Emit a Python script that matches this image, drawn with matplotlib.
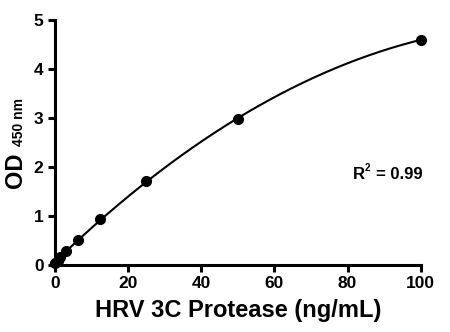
import numpy as np
import matplotlib
matplotlib.use("Agg")
import matplotlib.pyplot as plt

plt.rcParams['font.family'] = ['Liberation Sans', 'DejaVu Sans']
plt.rcParams['font.weight'] = 'bold'

conc = [0, 0.78, 1.56, 3.125, 6.25, 12.5, 25, 50, 100]
od = [0.04, 0.09, 0.16, 0.29, 0.52, 0.94, 1.71, 2.97, 4.6]
xticks = [0, 20, 40, 60, 80, 100]
yticks = [0, 1, 2, 3, 4, 5]

px = 1/100
fig = plt.figure(figsize=(450*px, 332*px), dpi=100)
ax = fig.add_axes([54.7/450, 67/332, 366/450, 245/332])

# smooth fit curve through the standards
coef = np.polyfit(conc, od, 2)
xx = np.linspace(0, 100, 200)
ax.plot(xx, np.polyval(coef, xx), color='black', lw=1.5, clip_on=False)
ax.plot(conc, od, 'o', color='black', ms=7, clip_on=False, zorder=3)

ax.set_xlim(0, 100)
ax.set_ylim(0, 5)
ax.set_xticks(xticks)
ax.set_yticks(yticks)
for s in ['top', 'right']:
    ax.spines[s].set_visible(False)
for s in ['left', 'bottom']:
    ax.spines[s].set_linewidth(2.2)
ax.tick_params(width=2.2, length=5, labelsize=12.5, pad=3)
for lab in ax.get_xticklabels() + ax.get_yticklabels():
    lab.set_fontweight('bold')

ax.set_xlabel('HRV 3C Protease (ng/mL)', fontsize=17, fontweight='bold', labelpad=6)
# y label: OD with subscript wavelength
fig.text(15.5/450, 1 - 170/332, 'OD', rotation=90, fontsize=17, fontweight='bold',
         ha='center', va='center')
fig.text(19/450, 1 - 122/332, '450 nm', rotation=90, fontsize=10, fontweight='bold',
         ha='center', va='center')
# R squared note, small superscript
fig.text(353/450, 1 - 179/332, 'R', fontsize=12, fontweight='bold', va='baseline')
fig.text(364.5/450, 1 - 171/332, '2', fontsize=7, fontweight='bold', va='baseline')
fig.text(376/450, 1 - 179/332, '= 0.99', fontsize=12, fontweight='bold', va='baseline')

plt.savefig('out.png', dpi=100)
